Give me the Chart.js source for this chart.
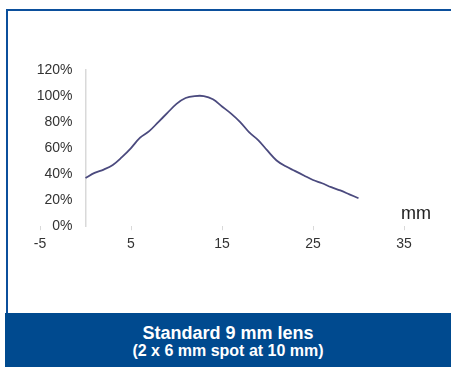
<!DOCTYPE html>
<html>
<head>
<meta charset="utf-8">
<script src="https://cdn.jsdelivr.net/npm/chart.js@4.4.1/dist/chart.umd.min.js"></script>
<style>
  html, body { margin: 0; padding: 0; background: #fff; }
  #wrap { position: relative; width: 451px; height: 367px; overflow: hidden; font-family: "Liberation Sans", Arial, sans-serif; }
  #frame { position: absolute; left: 6px; top: 9px; width: 470px; height: 320px; border-left: 2px solid #0b4f9c; border-top: 2px solid #0b4f9c; }
  #chart { position: absolute; left: 0; top: 0; }
  #unit { position: absolute; left: 401px; top: 204px; font-size: 18px; line-height: 18px; color: #222; }
  #band { position: absolute; left: 5px; top: 313px; width: 446px; height: 54px; background: #004a8f; color: #fff; font-weight: bold; text-align: center; }
  #band .t1 { position: absolute; left: 0; right: 0; top: 11px; font-size: 18px; line-height: 18px; }
  #band .t2 { position: absolute; left: 0; right: 0; top: 30px; font-size: 16px; line-height: 16px; }
</style>
</head>
<body>
<div id="wrap">
  <div id="frame"></div>
  <canvas id="chart" width="451" height="367"></canvas>
  <div id="unit">mm</div>
  <div id="band">
    <div class="t1">Standard 9 mm lens</div>
    <div class="t2">(2 x 6 mm spot at 10 mm)</div>
  </div>
</div>
<script>
// distance across the spot (mm) and relative intensity (%)
var positions = [0, 1, 2, 3, 4, 5, 6, 7, 8, 9, 10, 11, 12, 13, 14, 15, 16, 17, 18, 19, 20, 21, 22, 23, 24, 25, 26, 27, 28, 29, 30];
var intensity = [37, 41, 43.5, 47, 53, 60, 68, 73, 80, 87, 94, 98.5, 100, 100, 97.5, 92, 86.5, 80, 72, 66, 58, 50.5, 46, 42.5, 39, 35.5, 33, 30, 27.5, 24.5, 21.5];
var xTicks = [-5, 5, 15, 25, 35];
var yTicks = [0, 20, 40, 60, 80, 100, 120];

var points = positions.map(function (x, i) {
    return { x: x, y: intensity[i] };
});

var tickFont = { family: '"Liberation Sans", Arial, sans-serif', size: 14 };

// y axis sits at x = 0, so its labels get no padding by default; push them left
var yLabelGap = {
    id: 'yLabelGap',
    beforeDraw: function (chart) {
        var s = chart.scales.y;
        s._labelItems = null;
        s.getLabelItems(chart.chartArea).forEach(function (item) {
            item.options.translation[0] -= 13;
        });
    }
};

var chart = new Chart('chart', { //eslint-disable-line
    type: 'scatter',
    data: {
        datasets: [{
            label: 'Intensity',
            data: points,
            showLine: true,
            borderColor: '#4b4a7e',
            borderWidth: 1.8,
            pointRadius: 0,
            tension: 0.35
        }]
    },
    plugins: [yLabelGap],
    options: {
        responsive: false,
        animation: false,
        layout: {
            padding: { left: 40, right: 47, top: 70, bottom: 108 }
        },
        plugins: {
            legend: { display: false },
            tooltip: { enabled: false }
        },
        scales: {
            x: {
                type: 'linear',
                position: 'bottom',
                min: -5,
                max: 35,
                afterBuildTicks: function (scale) {
                    scale.ticks = xTicks.map(function (v) { return { value: v }; });
                },
                grid: { drawOnChartArea: false, tickLength: 4, color: '#d9d9d9' },
                border: { display: false },
                ticks: { font: tickFont, color: '#333', padding: 6, maxRotation: 0 }
            },
            y: {
                type: 'linear',
                position: { x: 0 },
                min: 0,
                max: 120,
                afterBuildTicks: function (scale) {
                    scale.ticks = yTicks.map(function (v) { return { value: v }; });
                },
                grid: { display: true, drawOnChartArea: false, drawTicks: false },
                border: { display: true, color: '#d9d9d9', width: 1.5 },
                ticks: {
                    font: tickFont,
                    color: '#333',
                    callback: function (v) { return v + '%'; }
                }
            }
        }
    }
});
</script>
</body>
</html>
